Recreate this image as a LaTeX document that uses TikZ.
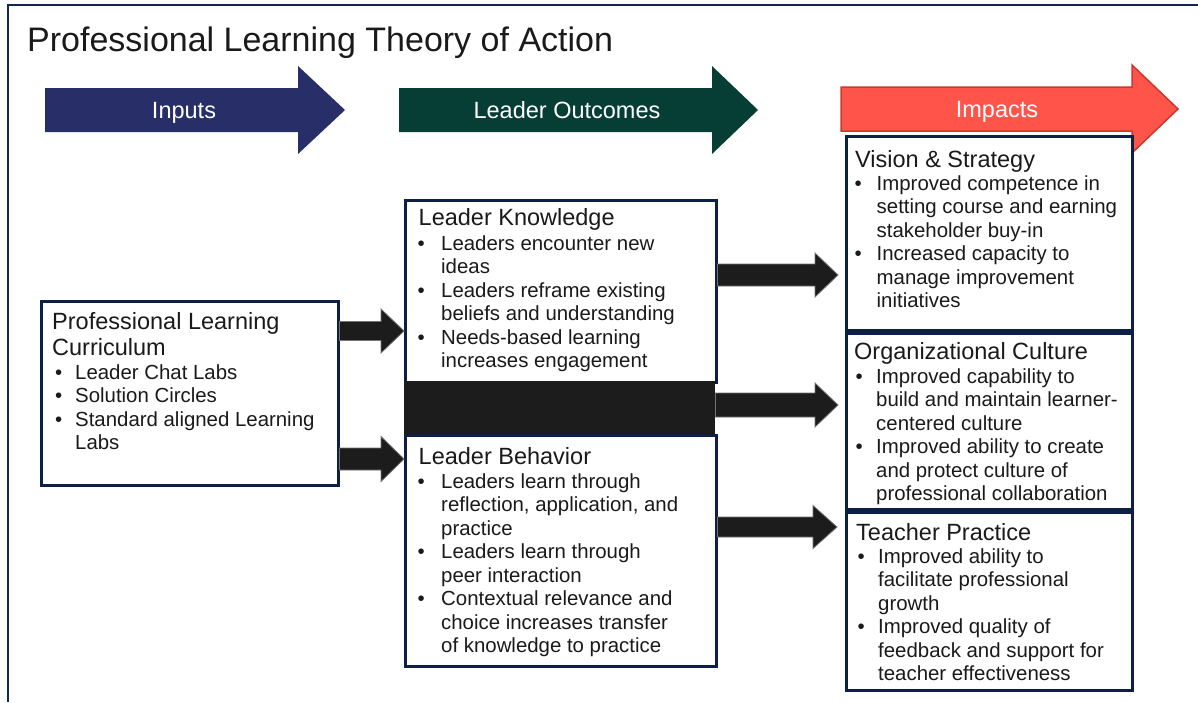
\documentclass[tikz,border=0pt]{standalone}
\usepackage{fontspec}
\setmainfont{Liberation Sans}
\usetikzlibrary{calc}

\definecolor{navyframe}{HTML}{13284F}
\definecolor{boxline}{HTML}{0D1F44}
\definecolor{inputblue}{HTML}{272E68}
\definecolor{outgreen}{HTML}{063E36}
\definecolor{impred}{HTML}{FF5449}
\definecolor{impedge}{HTML}{C9392F}
\definecolor{inkblack}{HTML}{1C1C1C}
\definecolor{ink}{HTML}{1A1A1A}

% block arrow from tail #1 to tip #2; #3 body half height, #4 head half height, #5 head length
\newcommand\blockarrow[5]{%
  \path[blk] let \p1=(#1), \p2=(#2) in
    (\x1,\y1+#3) -- (\x2-#5,\y1+#3) -- (\x2-#5,\y1+#4) -- (\x2,\y1)
    -- (\x2-#5,\y1-#4) -- (\x2-#5,\y1-#3) -- (\x1,\y1-#3) -- cycle;}

% lines of a bulleted list: #1 name prefix, #2 bullet x, #3 text x, #4 first baseline, #5 list (b = bullet line, c = continuation)
\newcommand\itemlines[5]{%
  \foreach \k/\t [count=\i from 0] in {#5}{%
    \node[bodytext] (#1-\i) at (#3,#4+23.5*\i) {\t};
    \if b\k \node[bodytext] (#1-dot-\i) at (#2,#4+23.5*\i) {\textbullet};\fi
  }}

\begin{document}
\begin{tikzpicture}[x=1pt,y=-1pt,
  box/.style={draw=boxline, line width=2.5pt, fill=white, inner sep=0pt, anchor=north west},
  hd/.style={anchor=base west, inner sep=0pt, font=\fontsize{23.5}{26}\selectfont, text=ink},
  bodytext/.style={anchor=base west, inner sep=0pt, font=\fontsize{20.4}{23.5}\selectfont, text=ink},
  tag/.style={anchor=base, inner sep=0pt, font=\fontsize{23.5}{26}\selectfont, text=white},
  blk/.style={fill=inkblack, draw=black!55, line width=0.8pt, line join=miter}]

\useasboundingbox (0,0) rectangle (1198,702);
\fill[white] (0,0) rectangle (1198,702);

% outer frame
\draw[navyframe, line width=2.5pt] (8,702) -- (8,5) -- (1198,5);

% title
\node[anchor=base west, inner sep=0pt, font=\fontsize{34}{40}\selectfont, text=ink] (title) at (27,51) {Professional Learning Theory of Action};

% stage banners
\path[fill=inputblue] (45,88) -- (298,88) -- (298,66) -- (345,110) -- (298,154) -- (298,132) -- (45,132) -- cycle;
\node[tag] (inputs) at (184,118.3) {Inputs};
\path[fill=outgreen] (399,88) -- (712,88) -- (712,66) -- (758,110) -- (712,154) -- (712,132) -- (399,132) -- cycle;
\node[tag] (outcomes) at (567,118.3) {Leader Outcomes};
\path[fill=impred, draw=impedge, line width=1.5pt, line join=miter] (841,87) -- (1132,87) -- (1132,65) -- (1178,109) -- (1132,153) -- (1132,131) -- (841,131) -- cycle;
\node[tag] (impacts) at (997,117) {Impacts};

% boxes
\node[box, minimum width=297pt, minimum height=184pt] (cur) at (40,300) {};
\node[box, minimum width=311pt, minimum height=182pt] (kn) at (404,199) {};
\node[box, minimum width=311pt, minimum height=231pt] (bh) at (404,434) {};
\node[fill=inkblack, inner sep=0pt, anchor=north west, minimum width=311pt, minimum height=53pt] (band) at (404,381) {};
\node[box, minimum width=286pt, minimum height=194pt] (vis) at (845,135) {};
\node[box, minimum width=286pt, minimum height=176pt] (org) at (845,332) {};
\node[box, minimum width=286pt, minimum height=178pt] (tea) at (845,511) {};

% box texts
\node[hd] (cur-h1) at (52,329) {Professional Learning};
\node[hd] (cur-h2) at (52,355) {Curriculum};
\itemlines{cur-l}{55}{75}{379}{b/Leader Chat Labs, b/Solution Circles, b/Standard aligned Learning, c/Labs}

\node[hd] (kn-h) at (418.5,225) {Leader Knowledge};
\itemlines{kn-l}{417.5}{441}{250}{b/Leaders encounter new, c/ideas, b/Leaders reframe existing, c/beliefs and understanding, b/Needs-based learning, c/increases engagement}

\node[hd] (bh-h) at (418.5,464) {Leader Behavior};
\itemlines{bh-l}{417.5}{441}{488}{b/Leaders learn through, c/{reflection, application, and}, c/practice, b/Leaders learn through, c/peer interaction, b/Contextual relevance and, c/choice increases transfer, c/of knowledge to practice}

\node[hd] (vis-h) at (855,167) {Vision \& Strategy};
\itemlines{vis-l}{854.5}{876.5}{190}{b/Improved competence in, c/setting course and earning, c/stakeholder buy-in, b/Increased capacity to, c/manage improvement, c/initiatives}

\node[hd] (org-h) at (854,359) {Organizational Culture};
\itemlines{org-l}{855.5}{876}{383}{b/Improved capability to, c/build and maintain learner-, c/centered culture, b/Improved ability to create, c/and protect culture of, c/professional collaboration}

\node[hd] (tea-h) at (856,540) {Teacher Practice};
\itemlines{tea-l}{857.5}{878}{563}{b/Improved ability to, c/facilitate professional, c/growth, b/Improved quality of, c/feedback and support for, c/teacher effectiveness}

% connector levels
\coordinate (lv1) at (0,331);
\coordinate (lv2) at (0,459);
\coordinate (lv3) at (0,275);
\coordinate (lv4) at (0,405);
\coordinate (lv5) at (0,527);

% connectors
\blockarrow{cur.east |- lv1}{kn.west |- lv1}{9.5pt}{22pt}{23pt}
\blockarrow{cur.east |- lv2}{bh.west |- lv2}{11pt}{22.5pt}{23pt}
\blockarrow{kn.east |- lv3}{$(vis.west |- lv3)+(-7,0)$}{11pt}{22pt}{23pt}
\blockarrow{band.east |- lv4}{$(org.west |- lv4)+(-7,0)$}{12pt}{22pt}{23pt}
\blockarrow{bh.east |- lv5}{$(tea.west |- lv5)+(-8,0)$}{10pt}{21.5pt}{24pt}

\end{tikzpicture}
\end{document}
